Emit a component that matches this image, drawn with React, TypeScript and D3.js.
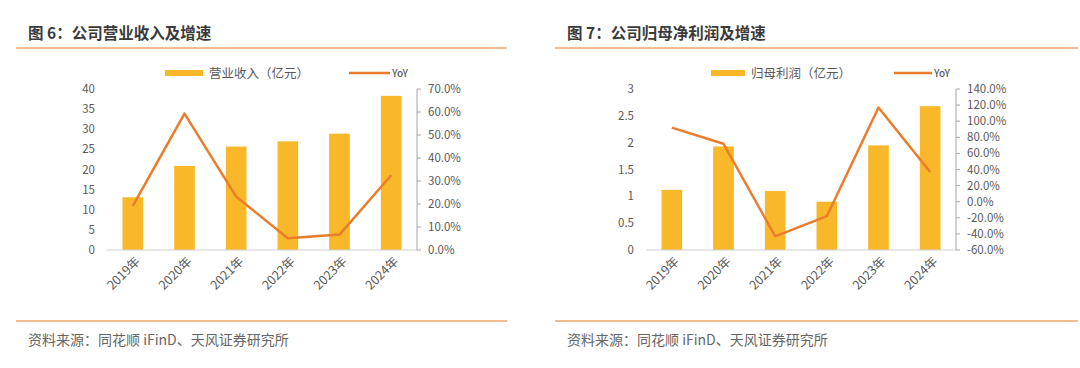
import React from 'react';
import * as d3 from 'd3';

const years = ['2019年', '2020年', '2021年', '2022年', '2023年', '2024年'];

const revenue = [13.1, 20.9, 25.7, 27.0, 28.9, 38.3];
const revenueYoy = [19.2, 59.3, 23.2, 5.1, 6.7, 32.5];
const revenueTicks = [0, 5, 10, 15, 20, 25, 30, 35, 40];
const revenueYoyTicks = [0, 10, 20, 30, 40, 50, 60, 70];

const profit = [1.12, 1.93, 1.1, 0.9, 1.95, 2.68];
const profitYoy = [92, 72, -43, -18, 117, 37];
const profitTicks = [0, 0.5, 1, 1.5, 2, 2.5, 3];
const profitYoyTicks = [-60, -40, -20, 0, 20, 40, 60, 80, 100, 120, 140];

const BAR = '#F9B829';
const LINE = '#EB7C2C';
const RULE = '#EFA56C';
const TEXT = '#595959';
const FONT = '"Noto Sans CJK SC", "Noto Sans", sans-serif';

interface PanelProps {
  title: string;
  barName: string;
  bars: number[];
  yoy: number[];
  leftTicks: number[];
  rightTicks: number[];
  ox: number; // panel shift
  ruleEnd: number;
  legendSwatch: [number, number];
  legendLine: [number, number];
}

const TOP = 89;
const BOT = 250;

function Panel({ title, barName, bars, yoy, leftTicks, rightTicks, ox, ruleEnd, legendSwatch, legendLine }: PanelProps) {
  const x0 = 107 + ox;
  const x1 = 417 + ox;
  const x = d3.scaleBand<string>().domain(years).range([x0, x1]).paddingInner(0.6).paddingOuter(0.3);
  const yL = d3.scaleLinear().domain([leftTicks[0], leftTicks[leftTicks.length - 1]]).range([BOT, TOP]);
  const yR = d3.scaleLinear().domain([rightTicks[0], rightTicks[rightTicks.length - 1]]).range([BOT, TOP]);
  const cx = (d: string) => (x(d) ?? 0) + x.bandwidth() / 2;
  const line = d3.line<number>()
    .x((_, i) => cx(years[i]))
    .y((d) => yR(d));
  const fmtL = (v: number) => String(v);
  const fmtR = (v: number) => `${v.toFixed(1)}%`;
  const tx = ox + 28;

  return (
    <g fontFamily={FONT}>
      <text x={tx} y={39} fontSize={15.5} fontWeight="bold" fill="#3a3a3a">{title}</text>
      <line x1={ox + 16} x2={ruleEnd} y1={48} y2={48} stroke={RULE} strokeWidth={1.5} />

      {/* legend */}
      <rect x={legendSwatch[0]} y={70} width={legendSwatch[1] - legendSwatch[0]} height={6} fill={BAR} />
      <text x={legendSwatch[1] + 6} y={77.5} fontSize={12.5} fill={TEXT}>{barName}</text>
      <line x1={legendLine[0]} x2={legendLine[1]} y1={73} y2={73} stroke={LINE} strokeWidth={2.5} />
      <text x={legendLine[1] + 2} y={77} fontSize={10} fontWeight={500} fill={TEXT}>YoY</text>

      {/* left axis labels */}
      {leftTicks.map((t) => (
        <text key={t} x={95 + ox} y={yL(t)} dy="0.35em" textAnchor="end" fontSize={11.5} fill={TEXT}>{fmtL(t)}</text>
      ))}

      {/* bars */}
      {bars.map((v, i) => (
        <rect key={years[i]} x={x(years[i])} y={yL(v)} width={x.bandwidth()} height={yL(0) - yL(v)} fill={BAR} />
      ))}

      {/* baseline */}
      <line x1={x0} x2={x1} y1={BOT} y2={BOT} stroke="#d0d0d0" strokeWidth={1} />

      {/* right axis */}
      <line x1={x1} x2={x1} y1={TOP} y2={BOT} stroke="#a6a6a6" strokeWidth={1} />
      {rightTicks.map((t) => (
        <g key={t}>
          <line x1={x1} x2={x1 + 4} y1={yR(t)} y2={yR(t)} stroke="#a6a6a6" strokeWidth={1} />
          <text x={x1 + 11} y={yR(t)} dy="0.35em" fontSize={11.5} fill={TEXT}>{fmtR(t)}</text>
        </g>
      ))}

      {/* yoy line */}
      <path d={line(yoy) ?? ''} fill="none" stroke={LINE} strokeWidth={2.5} strokeLinejoin="round" />

      {/* x labels */}
      {years.map((yr) => (
        <text
          key={yr}
          transform={`translate(${cx(yr) + 5},${BOT + 9}) rotate(-45)`}
          textAnchor="end"
          dy="0.35em"
          fontSize={12.5}
          fill={TEXT}
        >
          {yr}
        </text>
      ))}

      {/* footer */}
      <line x1={ox + 16} x2={ruleEnd} y1={321} y2={321} stroke={RULE} strokeWidth={1.5} />
      <text x={tx} y={345} fontSize={14} fill="#666">资料来源：同花顺 iFinD、天风证券研究所</text>
    </g>
  );
}

export default function App() {
  return (
    <div style={{ position: 'fixed', left: 0, top: 0 }}>
      <svg width={1080} height={368} viewBox="0 0 1080 368" style={{ display: 'block', background: '#fff' }}>
        <Panel
          title="图 6：公司营业收入及增速"
          barName="营业收入（亿元）"
          bars={revenue}
          yoy={revenueYoy}
          leftTicks={revenueTicks}
          rightTicks={revenueYoyTicks}
          ox={0}
          ruleEnd={507}
          legendSwatch={[165, 203]}
          legendLine={[349, 390]}
        />
        <Panel
          title="图 7：公司归母净利润及增速"
          barName="归母利润（亿元）"
          bars={profit}
          yoy={profitYoy}
          leftTicks={profitTicks}
          rightTicks={profitYoyTicks}
          ox={539}
          ruleEnd={1078}
          legendSwatch={[711, 745]}
          legendLine={[894, 932]}
        />
      </svg>
    </div>
  );
}
